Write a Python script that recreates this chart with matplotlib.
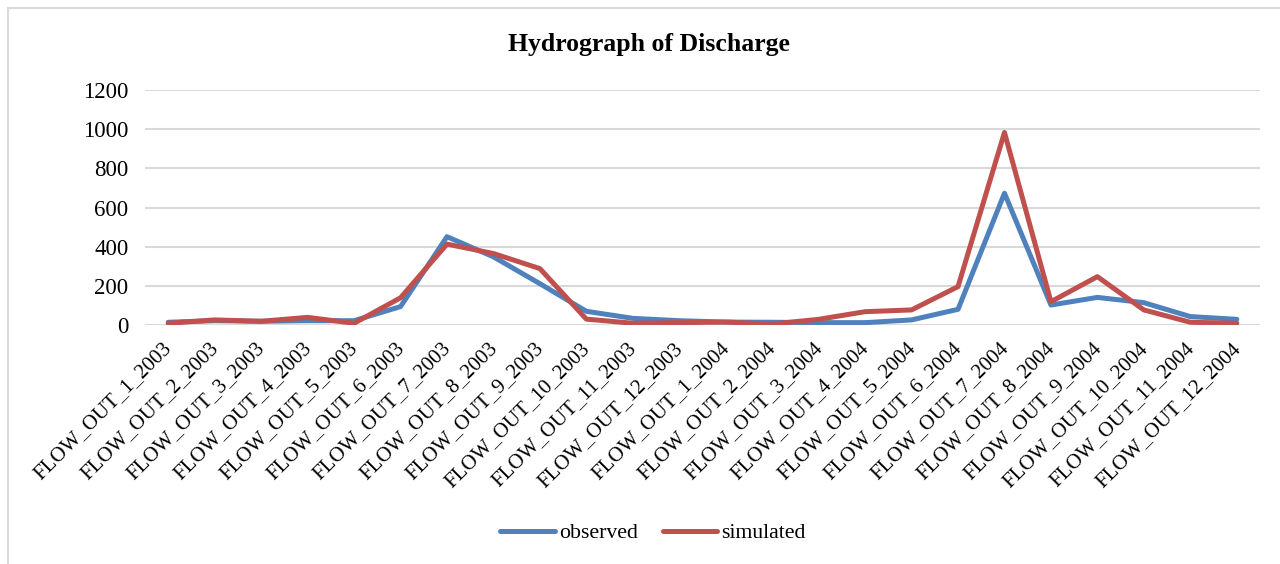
import matplotlib
matplotlib.use("Agg")
import matplotlib.pyplot as plt
from matplotlib.patches import Rectangle
from matplotlib.transforms import ScaledTranslation

months = [f"FLOW_OUT_{m}_{y}" for y in (2003, 2004) for m in range(1, 13)]

observed = [14, 22, 19, 22, 22, 94, 451, 348, 211, 70, 34, 22,
            15, 14, 12, 12, 26, 80, 673, 102, 141, 114, 43, 29]
simulated = [9, 26, 19, 39, 9, 139, 413, 365, 288, 30, 9, 12,
             15, 5, 29, 68, 77, 196, 983, 119, 247, 77, 14, 9]

yticks = [0, 200, 400, 600, 800, 1000, 1200]

plt.rcParams["font.family"] = ["Liberation Serif", "DejaVu Serif"]

W, H = 1280, 564
fig = plt.figure(figsize=(W / 100, H / 100), dpi=100)

# chart-area frame (only top and left edges fall inside the canvas)
fig.patches.append(Rectangle((8 / W, -0.1), 1.2, 1 - 8 / H + 0.1,
                             transform=fig.transFigure, fill=False,
                             edgecolor="#D9D9D9", linewidth=1.5))

ax = fig.add_axes([145 / W, 1 - 325 / H, 1115 / W, 235 / H])
x = list(range(len(months)))
ax.plot(x, observed, color="#4F81BD", lw=3.6, label="observed",
        solid_joinstyle="round", solid_capstyle="round")
ax.plot(x, simulated, color="#C0504D", lw=3.6, label="simulated",
        solid_joinstyle="round", solid_capstyle="round")

ax.set_xlim(-0.5, len(months) - 0.5)
ax.set_ylim(0, 1200)
ax.set_yticks(yticks)
ax.set_yticklabels([str(v) for v in yticks], fontsize=16.5)
ax.set_xticks(x)
ax.set_xticklabels(months, fontsize=15, rotation=45, ha="right",
                   va="top", rotation_mode="anchor")
ax.tick_params(length=0)
ax.tick_params(axis="y", pad=12)
ax.tick_params(axis="x", pad=10)
shift = ScaledTranslation(-0.06, 0.0, fig.dpi_scale_trans)
for lbl in ax.get_xticklabels():
    lbl.set_transform(lbl.get_transform() + shift)
ax.grid(axis="y", color="#D9D9D9", lw=1.5)
ax.set_axisbelow(True)
for s in ax.spines.values():
    s.set_visible(False)

fig.text(0.5 + 9 / W, 1 - 44 / H, "Hydrograph of Discharge", ha="center",
         va="center", fontsize=18.5, fontweight="bold")

fig.legend(loc="center", bbox_to_anchor=(653 / W, 1 - 533 / H), ncol=2,
           frameon=False, fontsize=15.7, handlelength=2.5, handletextpad=0.18,
           columnspacing=1.15)

fig.savefig("out.png", dpi=100, facecolor="white")
